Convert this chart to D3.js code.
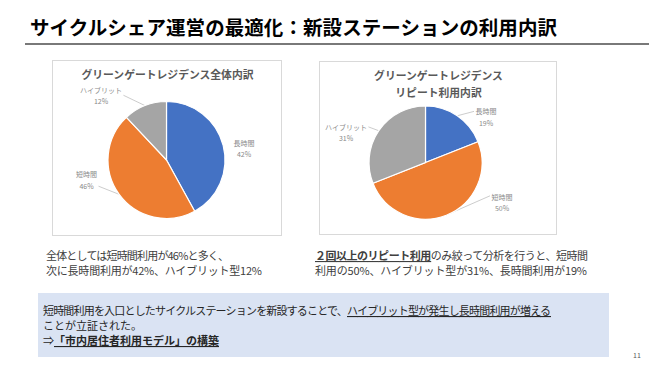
<!DOCTYPE html>
<html><head><meta charset="utf-8">
<script src="https://cdn.jsdelivr.net/npm/d3@7"></script>
<style>
html,body{margin:0;padding:0;background:#fff;}
svg{display:block;font-family:"Noto Sans CJK JP","Noto Sans",sans-serif;}
</style></head>
<body>
<svg id="c" width="649" height="365"></svg>
<script>
// ---------- data ----------
const categories = ["長時間", "短時間", "ハイブリット"];
const overallValues = [42, 46, 12];
const repeatValues = [19, 50, 31];
const chartTitles = [["グリーンゲートレジデンス全体内訳"], ["グリーンゲートレジデンス", "リピート利用内訳"]];
const pageTitle = "サイクルシェア運営の最適化：新設ステーションの利用内訳";
const leftNote = [
  [{t: "全体としては短時間利用が46%と多く、"}],
  [{t: "次に長時間利用が42%、ハイブリット型12%"}]
];
const rightNote = [
  [{t: "２回以上のリピート利用", b: 1, u: 1}, {t: "のみ絞って分析を行うと、短時間"}],
  [{t: "利用の50%、ハイブリット型が31%、長時間利用が19%"}]
];
const boxNote = [
  [{t: "短時間利用を入口としたサイクルステーションを新設することで、"}, {t: "ハイブリット型が発生し長時間利用が増える", u: 1}],
  [{t: "ことが立証された。"}],
  [{t: "⇒"}, {t: "「市内居住者利用モデル」の構築", b: 1, u: 1}]
];
const pageNumber = "11";

// ---------- style / layout ----------
const colors = ["#4472C4", "#ED7D31", "#A5A5A5"];
const charts = [
  {values: overallValues, box: [52, 60, 281, 235], cx: 166.5, cy: 160, r: 58.5, titleY: [79],
   lab: [[77.5, -11.5], [-80, 20], [-65.5, -64.5]], leader: [0, 1, 1], attach: [0.5, 0.8, 0.5]},
  {values: repeatValues, box: [319, 61, 556, 234], cx: 425.5, cy: 162.5, r: 56.5, titleY: [80, 97],
   lab: [[60.5, -45.5], [76.5, 40], [-79.5, -30]], leader: [1, 1, 1], attach: [0.25, 0.2, 0.25]}
];

const svg = d3.select("#c");

// page title
svg.append("text").attr("x", 30).attr("y", 35)
  .attr("font-size", 19.5).attr("font-weight", "bold").attr("fill", "#000")
  .attr("textLength", 527).attr("lengthAdjust", "spacing")
  .text(pageTitle);
svg.append("line").attr("x1", 25).attr("x2", 649).attr("y1", 44).attr("y2", 44)
  .attr("stroke", "#4d4d4d").attr("stroke-width", 1.6);

const pie = d3.pie().sort(null).value(d => d);

charts.forEach((c, ci) => {
  const [x0, y0, x1, y1] = c.box;
  svg.append("rect").attr("x", x0 + 0.5).attr("y", y0 + 0.5)
    .attr("width", x1 - x0).attr("height", y1 - y0)
    .attr("fill", "#fff").attr("stroke", "#D9D9D9").attr("stroke-width", 1);
  const tx = (x0 + x1) / 2 + 1;
  chartTitles[ci].forEach((t, i) => {
    svg.append("text").attr("x", tx).attr("y", c.titleY[i])
      .attr("text-anchor", "middle").attr("font-size", 10.8).attr("font-weight", "bold")
      .attr("fill", "#595959").text(t);
  });
  const g = svg.append("g").attr("transform", `translate(${c.cx},${c.cy})`);
  const arcs = pie(c.values);
  const arc = d3.arc().innerRadius(0).outerRadius(c.r);
  g.selectAll("path").data(arcs).join("path")
    .attr("d", arc).attr("fill", (d, i) => colors[i])
    .attr("stroke", "#fff").attr("stroke-width", 1.2);

  arcs.forEach((d, i) => {
    const lg = g.append("g").attr("transform", `translate(${c.lab[i][0]},${c.lab[i][1]})`);
    lg.append("text").attr("x", 0).attr("y", -3).attr("text-anchor", "middle")
      .attr("font-size", 7).attr("fill", "#8A8A8A").text(categories[i]);
    lg.append("text").attr("x", 0).attr("y", 8.5).attr("text-anchor", "middle")
      .attr("font-size", 7).attr("fill", "#8A8A8A").text(d.value + "%");
    if (c.leader[i]) {
      const bb = lg.node().getBBox();
      const mid = (d.startAngle + d.endAngle) / 2;
      const ex = c.r * Math.sin(mid), ey = -c.r * Math.cos(mid);
      const lx = c.lab[i][0], ly = c.lab[i][1];
      const ax = lx > 0 ? lx + bb.x - 1.5 : lx + bb.x + bb.width + 1.5;
      const ay = ly + bb.y + bb.height * c.attach[i];
      g.insert("line", "path").attr("x1", ex).attr("y1", ey).attr("x2", ax).attr("y2", ay)
        .attr("stroke", "#BFBFBF").attr("stroke-width", 0.8);
    }
  });
});

// notes
function writeLine(segs, x, y, size, color, len) {
  const t = svg.append("text").attr("x", x).attr("y", y)
    .attr("font-size", size).attr("fill", color);
  segs.forEach(s => {
    const ts = t.append("tspan").text(s.t);
    if (s.b) ts.attr("font-weight", "bold");
    if (s.u) ts.attr("text-decoration", "underline");
  });
  if (len) t.attr("textLength", len).attr("lengthAdjust", "spacing");
  return t;
}
writeLine(leftNote[0], 46, 260, 11, "#404040", 183);
writeLine(leftNote[1], 46, 275, 11, "#404040", 216);
writeLine(rightNote[0], 315, 260, 11, "#404040", 273);
writeLine(rightNote[1], 315, 275, 11, "#404040", 272);

svg.append("rect").attr("x", 38).attr("y", 293).attr("width", 571).attr("height", 64)
  .attr("fill", "#DAE3F3");
writeLine(boxNote[0], 43, 315, 11, "#262626", 508);
writeLine(boxNote[1], 43, 330, 11, "#262626", null);
writeLine(boxNote[2], 43, 345, 11, "#262626", null);

svg.append("text").attr("x", 637).attr("y", 358).attr("text-anchor", "middle")
  .attr("font-size", 7).attr("fill", "#595959").text(pageNumber);
</script>
</body></html>
